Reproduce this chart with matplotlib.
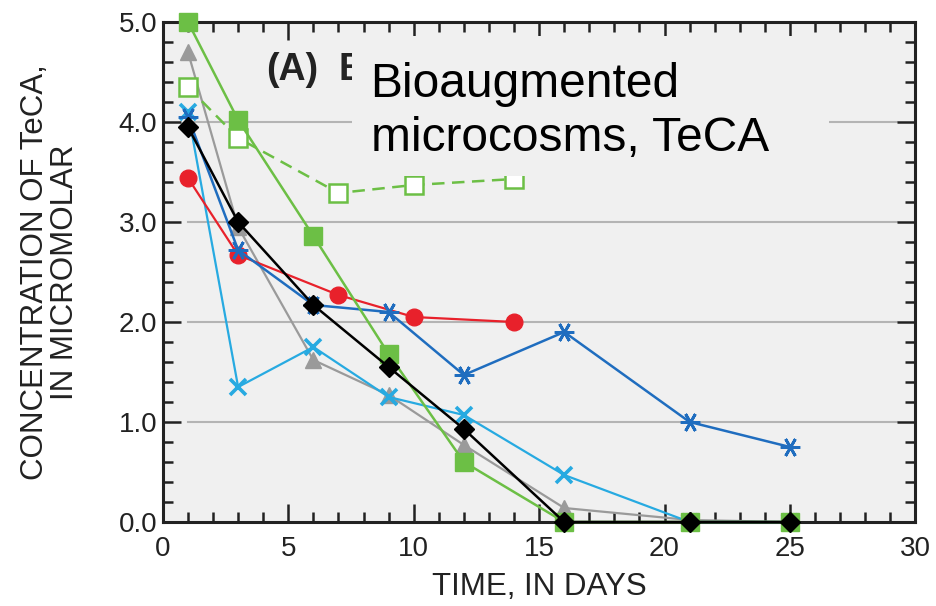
import matplotlib.pyplot as plt
from matplotlib.patches import Rectangle
from matplotlib.ticker import MultipleLocator

plt.rcParams['font.family'] = ['Liberation Sans', 'DejaVu Sans']

# TeCA concentration (micromolar) against time (days)
red_days = [1, 3, 7, 10, 14]
red_conc = [3.44, 2.67, 2.27, 2.05, 2.0]

green_days = [1, 3, 6, 9, 12, 16, 21, 25]
green_conc = [5.0, 4.02, 2.86, 1.68, 0.6, 0.0, 0.0, 0.0]

open_days = [1, 3, 7, 10, 14]
open_conc = [4.35, 3.84, 3.29, 3.37, 3.43]

gray_days = [1, 3, 6, 9, 12, 16, 21, 25]
gray_conc = [4.7, 2.95, 1.62, 1.27, 0.77, 0.14, 0.02, 0.0]

sky_days = [1, 3, 6, 9, 12, 16, 21, 25]
sky_conc = [4.1, 1.35, 1.75, 1.25, 1.07, 0.47, 0.0, 0.0]

navy_days = [1, 3, 6, 9, 12, 16, 21, 25]
navy_conc = [4.05, 2.72, 2.17, 2.1, 1.47, 1.9, 1.0, 0.75]

black_days = [1, 3, 6, 9, 12, 16, 21, 25]
black_conc = [3.95, 3.0, 2.17, 1.55, 0.93, 0.0, 0.0, 0.0]

fig = plt.figure(figsize=(9.36, 6.06), dpi=100)
ax = fig.add_axes([0.174, 0.1386, 0.804, 0.8251])
ax.set_facecolor('#f0f0f0')

# horizontal grid, not quite reaching the frame
for g in [1.0, 2.0, 3.0, 4.0]:
    ax.axhline(g, xmin=0.033, xmax=0.975, color='#b4b4b4', lw=1.5, zorder=1)

ax.plot(gray_days, gray_conc, color='#9a9a9a', marker='^', ms=12, lw=1.6, zorder=3, clip_on=False)
ax.plot(sky_days, sky_conc, color='#27aae1', marker='x', ms=11, mew=2.6, lw=1.6, zorder=4, clip_on=False)
ax.plot(red_days, red_conc, color='#e8212b', marker='o', ms=12, lw=1.6, zorder=4, clip_on=False)
ax.plot(open_days, open_conc, color='#6cbf45', marker='s', ms=13, mfc='white', mew=1.8,
        lw=1.8, ls=(0, (5, 3)), zorder=4, clip_on=False)
ax.plot(navy_days, navy_conc, color='#1f6dbf', marker=(6, 2, 90), ms=14, mew=2.0, lw=1.8, zorder=5, clip_on=False)
ax.plot(green_days, green_conc, color='#6cbf45', marker='s', ms=13, lw=1.8, zorder=6, clip_on=False)
ax.plot(black_days, black_conc, color='black', marker='D', ms=10, lw=1.8, zorder=7, clip_on=False)

ax.set_xlim(0, 30)
ax.set_ylim(0, 5)
ax.xaxis.set_major_locator(MultipleLocator(5))
ax.xaxis.set_minor_locator(MultipleLocator(1))
ax.yaxis.set_major_locator(MultipleLocator(1))
ax.yaxis.set_minor_locator(MultipleLocator(0.2))
ax.yaxis.set_major_formatter(plt.FuncFormatter(lambda v, p: f'{v:.1f}'))
ax.tick_params(which='both', direction='in', top=True, right=True, width=1.8, labelsize=20, colors='#222222')
ax.tick_params(which='major', length=13)
ax.tick_params(which='minor', length=7)
ax.tick_params(axis='x', which='major', pad=10)
ax.tick_params(axis='y', which='major', pad=4)
for s in ax.spines.values():
    s.set_linewidth(2.2)
    s.set_color('#222222')

ax.set_ylabel('CONCENTRATION OF TeCA,\nIN MICROMOLAR', fontsize=22.5, color='#222222', linespacing=1.0)
ax.yaxis.set_label_coords(-0.11, 0.5)
ax.set_xlabel('TIME, IN DAYS', fontsize=22.5, color='#222222')
ax.xaxis.set_label_coords(0.5, -0.1)

# original panel title, mostly hidden by the overlay box
ax.text(0.137, 0.903, '(A)', transform=ax.transAxes, fontsize=27,
        fontweight='bold', color='#222222', va='center', zorder=8)
ax.text(0.234, 0.903, 'B', transform=ax.transAxes, fontsize=27,
        fontweight='bold', color='#222222', va='center', zorder=8)
ax.add_patch(Rectangle((0.251, 0.692), 0.634, 0.28, transform=ax.transAxes,
                       facecolor='#f0f0f0', edgecolor='none', zorder=9))
ax.text(0.276, 0.821, 'Bioaugmented\nmicrocosms, TeCA', transform=ax.transAxes,
        fontsize=34.5, color='black', va='center', ha='left', linespacing=1.25, zorder=10)

fig.savefig('out.png', dpi=100)
